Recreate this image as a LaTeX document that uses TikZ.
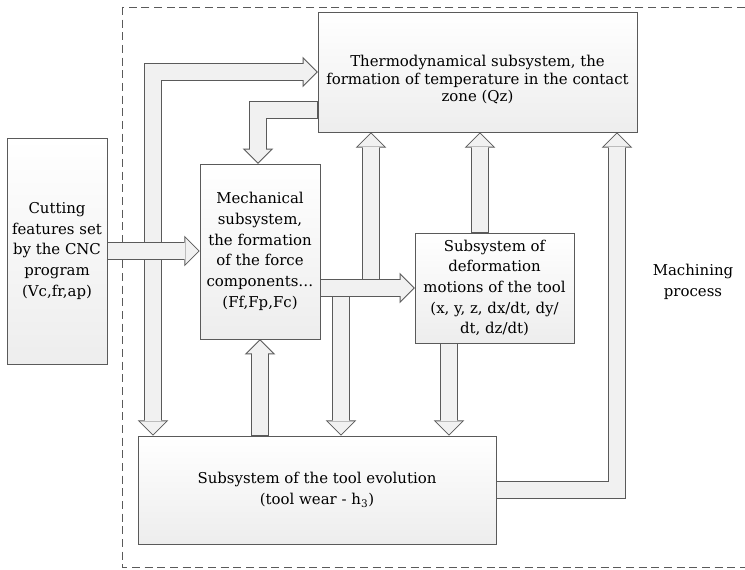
\documentclass[tikz,border=0pt]{standalone}
\usepackage{fontspec}
\setmainfont{DejaVu Serif}
\usetikzlibrary{arrows.meta,shadows,positioning,calc}

\definecolor{edge}{HTML}{5A5A5A}
\definecolor{shaft}{HTML}{F1F1F1}

\tikzset{
  box/.style={draw=edge, top color=white, bottom color=gray!14, align=center,
    inner sep=2pt, font=\fontsize{11.2}{15.5}\selectfont,
    drop shadow={shadow xshift=1pt, shadow yshift=-1pt, opacity=0.3}},
  ohead/.tip={Triangle[length=11.5pt, width=23pt, line width=0pt]},
  ihead/.tip={Triangle[length=9.7pt, width=19.4pt, line width=0pt]},
  outer/.style={line width=13pt, draw=edge, line join=miter},
  inner/.style={line width=11.5pt, draw=shaft, line join=miter},
  frame/.style={draw=edge, dash pattern=on 6pt off 3.5pt}
}

% fat hollow arrow: outline pass, then fill pass
\newcommand\fatarrow[1]{%
  \draw[outer, -ohead] #1;
  \draw[inner, -ihead, shorten <=0.75pt, shorten >=1.06pt] #1;}
\newcommand\fatdarrow[1]{%
  \draw[outer, ohead-ohead] #1;
  \draw[inner, ihead-ihead, shorten <=1.06pt, shorten >=1.06pt] #1;}

\begin{document}
\begin{tikzpicture}[x=0.75pt, y=-0.75pt]
  \useasboundingbox (0,0) rectangle (745,570);

  % Machining process frame
  \draw[frame] (122,7) rectangle (760,567);
  \node[font=\fontsize{11.2}{15.5}\selectfont, align=center] (machining) at (693,282) {Machining\\process};

  % Subsystems
  \node[box, minimum width=75pt, minimum height=169.5pt] (cutting) at (57,251)
    {Cutting\\features set\\by the CNC\\program\\(Vc,fr,ap)};
  \node[box, minimum width=239pt, minimum height=90pt, font=\fontsize{11.2}{13.2}\selectfont] (thermo) at (477.5,72)
    {\rule{0pt}{20pt}Thermodynamical subsystem, the\\formation of temperature in the contact\\zone (Qz)};
  \node[box, minimum width=90pt, minimum height=131pt] (mech) at (260,251.5)
    {Mechanical\\subsystem,\\the formation\\of the force\\components\dots\\(Ff,Fp,Fc)};
  \node[box, minimum width=119pt, minimum height=82.5pt] (deform) at (494.5,288)
    {Subsystem of\\deformation\\motions of the tool\\(x, y, z, dx/dt, dy/\\dt, dz/dt)};
  \node[box, minimum width=268.5pt, minimum height=81pt] (evol) at (317,490)
    {Subsystem of the tool evolution\\(tool wear - h\textsubscript{3})};

  % Bend points and columns of the arrows
  \coordinate (lbend) at (153,72);
  \coordinate (tbend) at (258,110);
  \coordinate (rbend) at (617,490);
  \coordinate (upcol) at (371,288);
  \coordinate (dncol) at (341,288);
  \coordinate (dtcol) at (480,0);
  \coordinate (dbcol) at (449,0);

  % Evolution <-> thermodynamics, left loop
  \fatdarrow{(evol.north -| lbend) -- (lbend) -- (thermo.west |- lbend)}
  % Inputs from the CNC program
  \fatarrow{(cutting.east) -- (cutting.east -| mech.west)}
  % Thermodynamics -> mechanics
  \fatarrow{(thermo.west |- tbend) -- (tbend) -- (mech.north -| tbend)}
  % Evolution -> mechanics
  \fatarrow{(evol.north -| mech.south) -- (mech.south)}
  % Evolution -> thermodynamics, right loop
  \fatarrow{(evol.east) -- (rbend) -- (thermo.south -| rbend)}
  % Deformation -> thermodynamics and evolution
  \fatarrow{(deform.north -| dtcol) -- (thermo.south -| dtcol)}
  \fatarrow{(deform.south -| dbcol) -- (evol.north -| dbcol)}
  % Mechanics -> thermodynamics, evolution and deformation
  \fatarrow{(upcol) -- (thermo.south -| upcol)}
  \fatarrow{(dncol) -- (evol.north -| dncol)}
  \fatarrow{(mech.east |- deform.west) -- (deform.west)}
\end{tikzpicture}
\end{document}
